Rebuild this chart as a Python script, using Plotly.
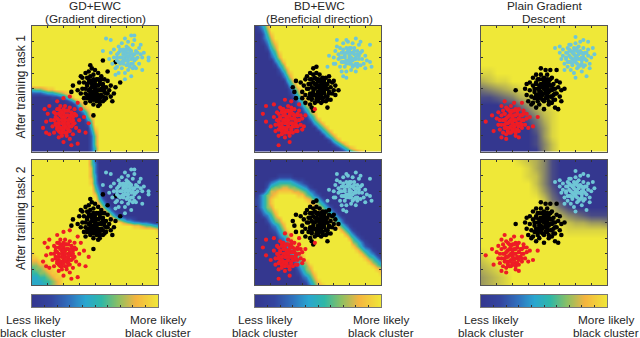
import plotly.graph_objects as go

# Categorical text
COLUMN_TITLES = [["GD+EWC", "(Gradient direction)"], ["BD+EWC", "(Beneficial direction)"], ["Plain Gradient", "Descent"]]
ROW_TITLES = ["After training task 1", "After training task 2"]
LESS = ["Less likely", "black cluster"]
MORE = ["More likely", "black cluster"]
COLORBAR_LEVELS = [0, 0.9, 1.8, 2.7, 3.6, 4.5, 5.4, 6.3, 7.2, 8.1, 9]

# Heat maps: rows run from top (y=8) to bottom (y=0), columns from x=0 to x=8.
# Each digit is a level 0-9; a short row continues with its last digit.
P11 = ["9"] * 16 + ["5667889", "22234456789", "000001123579", "0"*9+"13689", "0"*11+"2589", "0"*12+"3689", "0"*12+"1369",
                    "0"*13+"1589", "0"*14+"369", "0"*14+"159", "0"*15+"489", "0"*15+"379", "0"*15+"269", "0"*15+"269",
                    "0"*15+"269", "0"*15+"259", "0"*15+"259"]
P21 = ["9"*15+"620", "9"*15+"630", "9"*15+"730", "9"*15+"730", "9"*15+"740", "9"*15+"840", "9"*15+"8410", "9"*16+"520",
       "9"*16+"630", "9"*16+"840", "9"*17+"520", "9"*17+"7410", "9"*18+"6310", "9"*19+"6310", "9"*20+"6310",
       "9"*21+"7542210", "9"*23+"7654433211", "9"*26+"8876654", "9"*32+"8", "9", "9", "9", "9", "9",
       "899", "889", "77889", "667789", "5667889", "55667889", "445567889", "444556789", "444456789"]
P12 = ["02479", "01369", "002589", "002479", "0013689", "0002579", "0001469", "00003589", "00002479", "000003589",
       "0"*5+"1469", "0"*6+"2579", "0"*6+"13689", "0"*7+"2479", "0"*8+"3589", "0"*8+"1469", "0"*9+"2579", "0"*9+"13689",
       "0"*10+"2479", "0"*11+"3589", "0"*11+"2479", "0"*12+"2579", "0"*12+"13689", "0"*13+"1469", "0"*14+"2579",
       "0"*15+"3579", "0"*16+"3579", "0"*17+"3579", "0"*18+"3579", "0"*19+"2579", "0"*20+"24689", "0"*21+"135789",
       "0"*23+"235689"]
P22 = ["0", "0", "0", "0", "0"*6+"11110", "0000"+"1233332110", "000"+"134555543210", "000"+"2566776654310",
       "00"+"147788887765320", "0"+"24678"+"99999"+"8865320", "12468"+"9"*8+"875420", "12468"+"9"*9+"876420",
       "02467"+"9"*11+"76420", "013568"+"9"*11+"76420", "00"+"2357"+"9"*12+"76420", "000"+"2467"+"9"*12+"76420",
       "000"+"13568"+"9"*12+"75310", "0000"+"2357"+"9"*13+"75310", "0000"+"12468"+"9"*13+"75310",
       "00000"+"13568"+"9"*13+"75310", "0"*6+"2357"+"9"*14+"75310", "0"*6+"12468"+"9"*14+"65310",
       "0"*7+"13578"+"9"*13+"864210", "0"*8+"2467"+"9"*14+"864310", "0"*8+"13568"+"9"*14+"864310",
       "0"*9+"1357"+"9"*15+"86531", "0"*10+"2467"+"9"*15+"8653", "0"*10+"13568"+"9"*15+"865",
       "0"*11+"2467"+"9"*16+"87", "0"*11+"13568"+"9"*16+"8", "0"*12+"23579", "0"*12+"124689", "0"*13+"135789"]
P13 = ["9", "9", "9", "9", "9", "9", "889", "67889", "3456789", "112346789", "0001135789", "00000135789",
       "00000013689", "00000002589", "00000001589", "00000001479", "00000000479"]
P23 = ["99999876410", "99999986410", "99999987410", "99999997410", "99999998520", "999999997310",
       "9999999986310", "99999999986432111", "99999999998766554", "99999999999888888", "9", "9",
       "89", "789", "6789", "56789", "56789"]

# Cluster points, column A
RED_A = [(2.5,.4),(2.9,.5),(2.0,.6),(2.4,.8),(1.7,.9),(1.1,1.1),(.9,1.2),(.7,1.5),(3.4,1.2),(3.6,1.8),(3.3,2.2),(3.1,2.7),
         (2.9,3.1),(2.0,3.4),(2.4,3.5),(1.6,3.2),(1.1,2.9),(.8,2.7),(1.0,2.4),(.9,1.9),(1.2,2.0),(1.3,1.6),(1.4,2.5),(1.4,1.2),
         (1.5,2.2),(1.5,1.8),(1.6,2.7),(1.6,1.4),(1.7,2.4),(1.7,2.0),(1.7,1.6),(1.8,2.9),(1.8,2.6),(1.8,1.2),(1.9,2.2),(1.9,1.8),
         (1.9,1.4),(1.9,1.0),(2.0,2.7),(2.0,2.4),(2.0,2.0),(2.0,1.6),(2.1,2.9),(2.1,2.2),(2.1,1.8),(2.1,1.2),(2.2,2.6),(2.2,1.5),
         (2.2,1.0),(2.3,2.3),(2.3,2.0),(2.3,1.7),(2.4,2.8),(2.4,1.3),(2.5,2.5),(2.5,1.9),(2.5,1.6),(2.6,2.2),(2.6,1.1),(2.7,2.7),
         (2.7,1.8),(2.8,2.3),(2.8,1.5),(3.0,2.0),(3.0,1.3)]
BLACK_A = [(3.7,5.5),(2.6,4.2),(3.1,4.8),(5.6,4.4),(5.1,3.2),(3.9,2.3),(4.2,2.9),(2.5,3.8),(2.9,3.9),(4.8,5.1),(5.3,5.7),(4.5,5.8),
           (3.0,4.4),(3.1,3.7),(3.2,4.7),(3.2,4.0),(3.3,3.4),(3.3,4.4),(3.4,5.0),(3.4,3.7),(3.4,3.1),(3.5,4.2),(3.5,4.7),(3.5,3.4),
           (3.6,3.9),(3.6,5.1),(3.6,4.4),(3.7,3.2),(3.7,3.6),(3.7,4.8),(3.8,4.1),(3.8,5.3),(3.8,3.4),(3.8,4.5),(3.9,3.0),(3.9,3.8),
           (3.9,4.9),(4.0,4.3),(4.0,3.5),(4.0,5.2),(4.0,4.0),(4.1,4.6),(4.1,3.2),(4.1,3.7),(4.2,4.2),(4.2,5.0),(4.2,3.9),(4.3,3.4),
           (4.3,4.5),(4.3,3.0),(4.4,4.0),(4.4,4.8),(4.4,3.6),(4.5,3.2),(4.5,4.3),(4.6,3.8),(4.6,4.6),(4.7,3.4),(4.7,4.1),(4.8,3.7),
           (4.8,4.5),(4.9,3.9),(5.0,3.5),(5.0,4.2),(5.2,3.7),(5.3,4.1)]
CYAN_A = [(4.7,7.2),(5.0,7.1),(4.5,6.4),(6.5,7.4),(7.4,6.0),(6.9,6.8),(5.9,4.6),(5.3,4.9),(5.4,5.4),(7.0,6.0),(7.4,5.8),(6.4,5.3),
          (4.9,5.9),(5.0,6.3),(5.1,5.6),(5.2,6.0),(5.2,6.5),(5.3,5.3),(5.4,6.2),(5.4,5.8),(5.5,6.7),(5.5,5.0),(5.6,6.4),(5.6,5.6),
          (5.6,6.0),(5.7,6.9),(5.7,5.3),(5.8,6.5),(5.8,5.8),(5.8,6.2),(5.9,7.2),(5.9,5.0),(5.9,6.0),(6.0,6.7),(6.0,5.5),(6.0,6.3),
          (6.1,7.0),(6.1,5.8),(6.1,5.2),(6.2,6.1),(6.2,6.5),(6.3,7.4),(6.3,5.6),(6.3,4.8),(6.4,6.8),(6.4,6.2),(6.5,5.8),(6.5,7.1),
          (6.6,6.4),(6.6,5.3),(6.7,6.0),(6.8,6.6),(6.8,5.6),(6.9,6.2),(7.0,5.2),(7.1,6.3)]

# Column B
RED_B = [(1.5,.4),(2.2,.6),(.5,2.4),(.7,2.9),(1.2,3.0),(1.9,3.3),(2.3,3.2),(2.8,3.0),(3.2,2.3),(3.1,1.6),(2.7,1.3),(1.5,1.0),
         (1.0,1.6),(.7,1.9),(3.8,2.7),(1.2,2.2),(1.3,1.7),(1.3,1.3),(1.4,2.5),(1.5,1.9),(1.5,1.4),(1.6,2.8),(1.6,2.2),(1.7,1.6),
         (1.7,2.5),(1.7,1.1),(1.8,2.0),(1.8,2.7),(1.8,1.4),(1.9,2.3),(1.9,1.8),(1.9,.9),(2.0,2.6),(2.0,2.0),(2.0,1.5),(2.1,2.9),
         (2.1,2.2),(2.1,1.2),(2.2,1.8),(2.2,2.5),(2.2,1.0),(2.3,2.1),(2.3,1.5),(2.3,2.8),(2.4,1.8),(2.4,2.4),(2.4,1.2),(2.5,2.1),
         (2.5,1.6),(2.5,2.7),(2.6,1.3),(2.6,1.9),(2.7,2.3),(2.7,1.6),(2.8,2.0),(2.8,2.6),(2.9,1.7),(2.9,2.3),(3.0,2.1),(3.0,1.4)]
BLACK_B = [(3.9,5.4),(3.7,5.3),(3.5,5.0),(2.6,4.5),(2.4,4.1),(2.5,3.8),(2.6,3.4),(4.6,2.8),(5.3,3.9),(3.6,2.8),(3.7,2.6),(5.0,4.5),
           (4.7,4.8),(2.9,4.4),(3.0,3.8),(3.0,3.4),(3.1,4.2),(3.2,4.6),(3.2,3.6),(3.2,3.1),(3.3,4.0),(3.3,4.8),(3.4,3.4),(3.4,4.3),
           (3.5,3.0),(3.5,3.7),(3.5,4.6),(3.6,4.1),(3.6,3.3),(3.7,4.9),(3.7,3.6),(3.7,4.4),(3.8,3.1),(3.8,4.0),(3.8,4.7),(3.9,3.5),
           (3.9,4.3),(3.9,5.0),(4.0,3.8),(4.0,3.2),(4.0,4.6),(4.1,4.1),(4.1,3.5),(4.1,4.9),(4.2,4.4),(4.2,3.1),(4.2,3.8),(4.3,4.7),
           (4.3,3.4),(4.3,4.1),(4.4,3.7),(4.4,4.4),(4.5,3.2),(4.5,4.0),(4.5,4.7),(4.6,3.5),(4.6,4.3),(4.7,3.8),(4.7,4.5),(4.8,3.3),
           (4.8,4.1),(4.9,3.7),(4.9,4.4),(5.0,3.9),(5.1,4.2),(5.1,3.6)]
CYAN_B = [(5.2,7.1),(7.3,6.8),(4.7,6.1),(5.0,5.6),(4.6,5.4),(5.6,4.8),(5.8,4.7),(7.3,5.7),(7.4,5.4),(7.0,5.3),(5.8,7.1),(6.4,7.2),
          (6.7,7.0),(5.0,6.0),(5.1,6.4),(5.1,5.6),(5.2,6.7),(5.3,5.9),(5.3,6.2),(5.4,5.4),(5.4,6.6),(5.5,6.0),(5.5,5.1),(5.6,6.3),
          (5.6,5.7),(5.6,6.9),(5.7,5.4),(5.7,6.1),(5.8,6.6),(5.8,5.8),(5.8,5.1),(5.9,6.3),(5.9,7.0),(6.0,5.6),(6.0,6.0),(6.0,6.6),
          (6.1,5.2),(6.1,6.3),(6.2,5.8),(6.2,6.9),(6.3,5.5),(6.3,6.2),(6.3,6.6),(6.4,5.9),(6.4,5.1),(6.5,6.4),(6.5,5.6),(6.6,6.1),
          (6.6,6.8),(6.7,5.5),(6.8,5.9),(6.8,6.4),(6.9,5.6),(7.0,6.1),(7.1,5.8)]

# Column C
RED_C = [(1.5,3.2),(.7,2.3),(.3,1.9),(.8,1.3),(1.3,.9),(1.6,.8),(2.4,.9),(3.6,2.2),(3.3,1.6),(2.6,3.1),(2.1,3.1),(2.9,2.4),(1.3,2.9),
         (1.0,2.1),(1.1,1.7),(1.1,2.5),(1.2,2.0),(1.2,1.4),(1.3,2.3),(1.3,1.7),(1.4,2.6),(1.4,1.2),(1.5,2.0),(1.5,1.5),(1.5,2.4),
         (1.6,2.8),(1.6,1.8),(1.6,1.1),(1.7,2.2),(1.7,1.5),(1.8,2.6),(1.8,1.9),(1.8,1.2),(1.9,2.3),(1.9,1.6),(1.9,2.9),(2.0,2.0),
         (2.0,1.3),(2.0,2.6),(2.1,1.7),(2.1,2.3),(2.2,1.0),(2.2,2.7),(2.2,1.4),(2.2,2.0),(2.3,2.4),(2.3,1.7),(2.4,2.1),(2.4,2.7),
         (2.4,1.3),(2.5,1.8),(2.6,2.3),(2.6,1.5),(2.7,2.0),(2.7,2.6),(2.8,1.7),(2.9,2.1),(3.0,1.5),(3.1,2.2)]
BLACK_C = [(2.2,3.9),(3.8,5.3),(4.1,5.2),(4.8,5.2),(5.3,4.0),(4.0,2.7),(4.7,2.8),(4.9,2.7),(5.1,3.2),(3.2,3.0),(3.5,2.8),(4.4,5.2),
           (2.8,4.0),(2.9,3.6),(2.9,4.3),(3.0,3.2),(3.1,3.9),(3.1,4.4),(3.2,3.5),(3.3,4.2),(3.3,3.1),(3.3,4.7),(3.4,3.8),(3.4,3.4),
           (3.5,4.4),(3.5,4.9),(3.6,3.2),(3.6,4.0),(3.6,3.6),(3.7,4.6),(3.7,4.2),(3.7,3.0),(3.8,3.8),(3.8,3.4),(3.8,4.9),(3.9,4.3),
           (3.9,3.6),(4.0,4.0),(4.0,4.7),(4.0,3.2),(4.1,3.7),(4.1,4.4),(4.2,3.4),(4.2,4.1),(4.2,4.9),(4.3,3.0),(4.3,3.8),(4.3,4.5),
           (4.4,4.2),(4.4,3.5),(4.5,4.7),(4.5,3.9),(4.5,3.1),(4.6,4.3),(4.6,3.6),(4.7,4.0),(4.7,3.3),(4.8,4.5),(4.8,3.7),(4.9,4.1),
           (5.0,3.5),(5.0,4.4),(5.1,3.9)]
CYAN_C = [(4.7,6.6),(5.0,6.7),(6.0,7.3),(6.5,7.1),(6.8,7.0),(7.1,6.6),(7.2,6.2),(5.6,6.8),(6.0,4.7),(5.3,5.2),(6.9,5.3),(6.7,4.8),
          (5.0,6.3),(5.1,5.9),(5.2,6.5),(5.2,6.1),(5.3,5.6),(5.4,6.3),(5.4,5.9),(5.5,6.6),(5.5,5.4),(5.6,6.1),(5.6,5.7),(5.7,6.4),
          (5.7,5.2),(5.7,6.8),(5.8,5.9),(5.8,5.5),(5.9,6.2),(5.9,6.6),(5.9,5.0),(6.0,5.7),(6.0,6.9),(6.0,6.0),(6.1,6.4),(6.1,5.3),
          (6.2,6.7),(6.2,5.9),(6.2,6.2),(6.3,5.5),(6.3,7.0),(6.4,6.3),(6.4,5.1),(6.4,5.8),(6.5,6.6),(6.5,6.0),(6.6,5.5),(6.6,6.3),
          (6.7,5.8),(6.8,6.5),(6.8,6.1),(6.9,5.6),(7.0,6.0)]

# The solid middle of each cluster (overlapping dots that cannot be told apart in the picture)
RED_CORE = [(1.4,2.0),(1.5,1.7),(1.5,2.4),(1.6,2.1),(1.7,1.3),(1.7,1.8),(1.7,2.7),(1.8,2.3),(1.8,1.5),(1.9,2.0),(1.9,2.5),(1.9,1.2),
            (2.0,1.8),(2.0,2.2),(2.0,1.4),(2.1,2.6),(2.1,1.6),(2.1,2.0),(2.2,2.3),(2.2,1.2),(2.3,1.8),(2.3,2.6),(2.3,1.4),(2.4,2.1),
            (2.4,1.6),(2.5,2.3),(2.6,1.7),(2.6,2.0),(2.7,2.4),(1.6,1.5)]
BLACK_CORE = [(3.4,4.0),(3.5,3.6),(3.5,4.3),(3.6,4.6),(3.6,3.4),(3.7,4.0),(3.7,3.8),(3.8,4.3),(3.8,3.6),(3.9,4.1),(3.9,4.6),(3.9,3.3),
              (4.0,3.7),(4.0,4.2),(4.0,4.5),(4.1,3.4),(4.1,3.9),(4.1,4.2),(4.2,4.6),(4.2,3.6),(4.3,3.9),(4.3,4.3),(4.3,3.2),(4.4,4.6),
              (4.4,3.9),(4.5,3.5),(4.5,4.2),(4.6,4.0),(4.6,3.3),(4.7,3.7)]
CYAN_CORE = [(5.4,6.0),(5.5,5.7),(5.5,6.3),(5.6,6.5),(5.7,5.7),(5.7,6.0),(5.8,6.3),(5.8,5.6),(5.9,5.8),(5.9,6.4),(6.0,6.1),(6.0,5.8),
             (6.0,6.5),(6.1,6.0),(6.1,5.6),(6.1,6.6),(6.2,5.4),(6.2,6.3),(6.3,5.9),(6.3,6.4),(6.4,6.0),(6.4,5.6),(6.5,6.2),(6.5,5.4),
             (6.6,5.9),(6.7,6.3)]

NAVY = "#34378f"
YELLOW = "#efe838"
PARULA = [[0, NAVY], [0.15, "#34459f"], [0.3, "#2f74bf"], [0.42, "#29a6cf"], [0.55, "#2fb7a6"],
          [0.68, "#8cc063"], [0.82, "#f5b43f"], [1, YELLOW]]
NOISE_MIX = [[0, NAVY], [1, YELLOW]]
W, H = 640, 338
COL_X = [(32, 158), (255, 381), (481, 607)]
ROW_Y = [(26, 151.5), (160, 285)]
BAR_Y = (295, 307)
FONT = "Liberation Sans"
TEXT = "#262626"


def dom_x(p):
    return [p[0] / W, p[1] / W]


def dom_y(p):
    return [1 - p[1] / H, 1 - p[0] / H]


def grid(rows):
    n = len(rows)
    out = [[int(c) for c in r.ljust(n, r[-1])] for r in rows]
    assert all(len(r) == n for r in out), [len(r) for r in out]
    return out[::-1]


fig = go.Figure()
layout = {}
panels = [[P11, P12, P13], [P21, P22, P23]]
clusters = [[BLACK_A, CYAN_A, RED_A], [BLACK_B, CYAN_B, RED_B], [BLACK_C, CYAN_C, RED_C]]
cores = [BLACK_CORE, CYAN_CORE, RED_CORE]
colours = ["#000000", "#6fc6d6", "#ee1c25"]
sizes = [4.6, 4.0, 4.2]
n = 0
for r in range(2):
    for c in range(3):
        n += 1
        xa, ya = ("x" + str(n), "y" + str(n))
        z = grid(panels[r][c])
        step = 8 / (len(z) - 1)
        fig.add_trace(go.Heatmap(z=z, x0=0, dx=step, y0=0, dy=step, zmin=0, zmax=9, zsmooth="best",
                                 colorscale=NOISE_MIX if c == 2 else PARULA, showscale=False, hoverinfo="skip",
                                 xaxis=xa, yaxis=ya))
        for pts, core, col, size in zip(clusters[c], cores, colours, sizes):
            all_pts = pts + core
            fig.add_trace(go.Scatter(x=[p[0] for p in all_pts], y=[p[1] for p in all_pts], mode="markers",
                                     marker=dict(color=col, size=size, line=dict(width=0)), showlegend=False,
                                     hoverinfo="skip", xaxis=xa, yaxis=ya))
        common = dict(range=[0, 8], dtick=1, ticks="inside", ticklen=2, tickwidth=1, tickcolor="#333333",
                      showticklabels=False, showgrid=False, zeroline=False, showline=True, linecolor="#555555",
                      linewidth=1, mirror="ticks")
        layout["xaxis" + str(n)] = dict(domain=dom_x(COL_X[c]), anchor="y" + str(n), **common)
        layout["yaxis" + str(n)] = dict(domain=dom_y(ROW_Y[r]), anchor="x" + str(n), **common)

for c in range(3):
    n += 1
    xa, ya = ("x" + str(n), "y" + str(n))
    fig.add_trace(go.Heatmap(z=[COLORBAR_LEVELS, COLORBAR_LEVELS], x0=0, dx=1, y0=0, dy=1, zmin=0, zmax=9, zsmooth="best",
                             colorscale=PARULA, showscale=False, hoverinfo="skip", xaxis=xa, yaxis=ya))
    layout["xaxis" + str(n)] = dict(domain=dom_x(COL_X[c]), anchor="y" + str(n), range=[0, 10], dtick=1, ticks="inside",
                                    ticklen=2, tickcolor="#333333", showticklabels=False, showgrid=False, zeroline=False,
                                    showline=True, linecolor="#777777", linewidth=1, mirror=True)
    layout["yaxis" + str(n)] = dict(domain=dom_y(BAR_Y), anchor="x" + str(n), range=[0, 1], showticklabels=False,
                                    ticks="", showgrid=False, zeroline=False, showline=True, linecolor="#777777",
                                    linewidth=1, mirror=True)

annotations = []
TITLE_X = [95, 319, 544]
TITLE_LINE_Y = [5.5, 18.5]
FOOT_LINE_Y = [319.5, 333]
LESS_X = [33, 265, 491]
MORE_X = [158, 381, 606]
ROW_LABEL_Y = [87, 218.5]
base = dict(xref="paper", yref="paper", showarrow=False, xanchor="center", yanchor="middle")
font = dict(family=FONT, size=11.8, color=TEXT)
for c in range(3):
    for line in range(2):
        annotations.append(dict(x=TITLE_X[c] / W, y=1 - TITLE_LINE_Y[line] / H, text=COLUMN_TITLES[c][line], font=font, **base))
        annotations.append(dict(x=LESS_X[c] / W, y=1 - FOOT_LINE_Y[line] / H, text=LESS[line], font=font, **base))
        annotations.append(dict(x=MORE_X[c] / W, y=1 - FOOT_LINE_Y[line] / H, text=MORE[line], font=font, **base))
for r in range(2):
    annotations.append(dict(x=20.5 / W, y=1 - ROW_LABEL_Y[r] / H, text=ROW_TITLES[r], textangle=-90,
                            font=dict(family=FONT, size=12, color=TEXT), **base))

fig.update_layout(width=W, height=H, margin=dict(l=0, r=0, t=0, b=0), paper_bgcolor="white", plot_bgcolor="white",
                  showlegend=False, annotations=annotations, **layout)
fig.write_html("out.html", config={"displayModeBar": False},
               post_script="document.body.style.margin='0';document.documentElement.style.overflow='hidden';")
